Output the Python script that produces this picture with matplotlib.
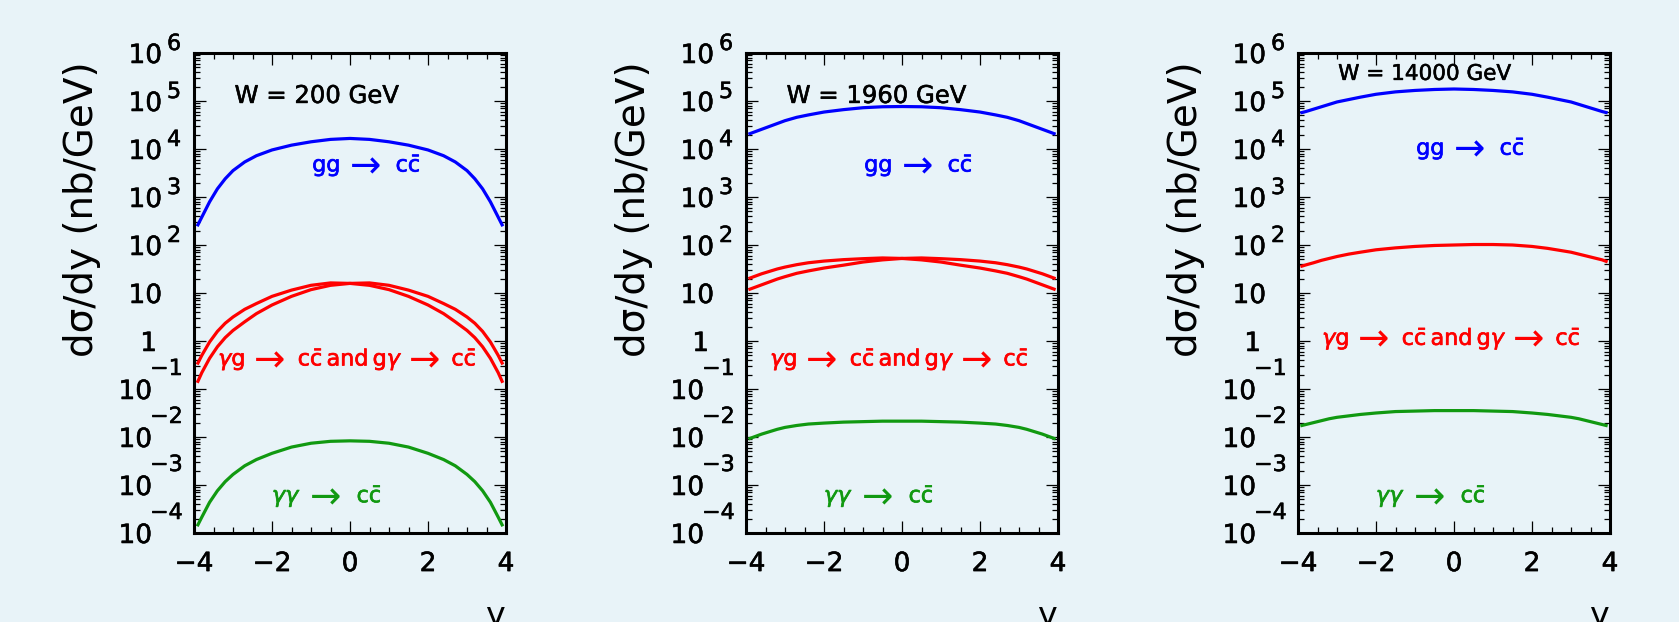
"""
Rapidity distributions dσ/dy of charm pairs for three energies W,
gg, γg/gγ and γγ channels, drawn on log scale in the old PAW style.
"""
import matplotlib
matplotlib.use("Agg")
import matplotlib.pyplot as plt
import matplotlib.patheffects as pe
import numpy as np
from matplotlib.ticker import MultipleLocator, LogLocator, NullFormatter

plt.rcParams["font.family"] = ["DejaVu Sans"]
plt.rcParams["mathtext.fontset"] = "dejavusans"

BG = "#e8f3f8"
BLUE, RED, GREEN = "#0000ff", "#ff0000", "#119911"

# rapidity grid of the curves
Y = [-3.9, -3.8, -3.6, -3.4, -3.2, -3.0, -2.7, -2.4, -2.0, -1.5, -1.0, -0.5, 0.0,
     0.5, 1.0, 1.5, 2.0, 2.4, 2.7, 3.0, 3.2, 3.4, 3.6, 3.8, 3.9]


def mirror(half):
    # symmetric curve: values from y=-3.9 up to y=0, reflected
    return half + half[-2::-1]


# all values below are log10 of dσ/dy in nb/GeV

# W = 200 GeV
gg_200 = mirror([2.42, 2.58, 2.90, 3.17, 3.38, 3.55, 3.73, 3.86, 3.98, 4.08, 4.15, 4.20, 4.22])
yg_200_left = [-0.46, -0.30, -0.02, 0.20, 0.37, 0.50, 0.66, 0.78, 0.93, 1.06, 1.16, 1.21, 1.20]
gy_200_left = [-0.84, -0.66, -0.36, -0.12, 0.07, 0.22, 0.40, 0.57, 0.75, 0.93, 1.07, 1.16, 1.20]
yy_200 = mirror([-3.83, -3.67, -3.36, -3.12, -2.93, -2.78, -2.60, -2.47, -2.34, -2.21, -2.13, -2.09, -2.08])

# W = 1960 GeV
gg_1960 = mirror([4.32, 4.35, 4.41, 4.47, 4.53, 4.59, 4.66, 4.71, 4.77, 4.82, 4.86, 4.88, 4.885])
yg_1960_left = [1.31, 1.34, 1.40, 1.45, 1.50, 1.54, 1.59, 1.63, 1.665, 1.695, 1.715, 1.73, 1.72]
gy_1960_left = [1.08, 1.11, 1.17, 1.23, 1.29, 1.34, 1.41, 1.46, 1.52, 1.58, 1.645, 1.69, 1.72]
yy_1960 = mirror([-2.03, -2.00, -1.94, -1.89, -1.84, -1.80, -1.76, -1.73, -1.71, -1.69, -1.68, -1.67, -1.67])

# W = 14000 GeV
gg_14000 = mirror([4.76, 4.78, 4.83, 4.88, 4.93, 4.98, 5.03, 5.08, 5.14, 5.19, 5.22, 5.24, 5.25])
yg_14000 = [1.56, 1.585, 1.63, 1.68, 1.72, 1.76, 1.81, 1.85, 1.90, 1.94, 1.97, 1.99, 2.00,
            2.01, 2.01, 2.00, 1.97, 1.93, 1.89, 1.85, 1.81, 1.77, 1.73, 1.69, 1.66]
yy_14000 = mirror([-1.76, -1.74, -1.70, -1.66, -1.62, -1.59, -1.56, -1.53, -1.50, -1.47, -1.46, -1.45, -1.45])


def pair(left_a, left_b):
    # γg and gγ are mirror images of each other
    a = left_a + left_b[-2::-1]
    return a, a[::-1]


yg_200, gy_200 = pair(yg_200_left, gy_200_left)
yg_1960, gy_1960 = pair(yg_1960_left, gy_1960_left)

W_LABELS = ["W = 200 GeV", "W = 1960 GeV", "W = 14000 GeV"]
X_TICKS = [-4, -2, 0, 2, 4]
X_TICK_LABELS = ["\u22124", "\u22122", "0", "2", "4"]

ARROW = "\u2192"
CC = r"c$\bar{\rm c}$"
# process labels, split in pieces: (text, left x in data units)
LBL_GG = [("gg", -0.97), (ARROW, 0.06), (CC, 1.17)]
LBL_YG = [(r"$\gamma$g", -3.38), (ARROW, -2.40), (CC, -1.34), ("and", -0.60),
          (r"g$\gamma$", 0.58), (ARROW, 1.58), (CC, 2.60)]
LBL_YY = [(r"$\gamma\gamma$", -2.0), (ARROW, -0.96), (CC, 0.17)]

PX = 0.72  # pixels -> points at dpi 100


def heavy(color="black", w=0.4):
    # the original font is a little heavier than DejaVu
    return [pe.withStroke(linewidth=w, foreground=color)]


def process_label(ax, pieces, logy, color):
    for txt, x in pieces:
        if txt == ARROW:
            ax.text(x - 0.06, 10 ** (logy - 0.125), txt, color=color, fontsize=27,
                    ha="left", va="baseline")
        else:
            ax.text(x, 10 ** logy, txt, color=color, fontsize=16, ha="left",
                    va="baseline", path_effects=heavy(color, 0.5))


def decade_labels(ax):
    tr = ax.get_yaxis_transform()
    for k in range(-4, 7):
        y = 10.0 ** k
        kw = dict(xy=(0, y), xycoords=tr, textcoords="offset points",
                  va="center_baseline", annotation_clip=False,
                  path_effects=heavy())
        if k == 0:
            ax.annotate("1", xytext=(-37 * PX, 0), ha="right", fontsize=19, **kw)
        elif k == 1:
            ax.annotate("10", xytext=(-32 * PX, 0), ha="right", fontsize=19, **kw)
        elif k > 1:
            ax.annotate("10", xytext=(-32 * PX, 0), ha="right", fontsize=19, **kw)
            ax.annotate(str(k), xytext=(-27 * PX, 11 * PX), ha="left", fontsize=16, **kw)
        else:
            ax.annotate("10", xytext=(-42 * PX, 0), ha="right", fontsize=19, **kw)
            ax.annotate("\u2212%d" % -k, xytext=(-44 * PX, 22 * PX), ha="left",
                        fontsize=16, **kw)


def style_axes(ax):
    ax.set_facecolor(BG)
    ax.set_xlim(-4, 4)
    ax.set_yscale("log")
    ax.set_ylim(1e-4, 1e6)
    ax.xaxis.set_major_locator(MultipleLocator(2))
    ax.xaxis.set_minor_locator(MultipleLocator(0.5))
    ax.yaxis.set_major_locator(LogLocator(base=10, numticks=20))
    ax.yaxis.set_minor_locator(LogLocator(base=10, subs=range(2, 10), numticks=20))
    ax.yaxis.set_major_formatter(NullFormatter())
    ax.yaxis.set_minor_formatter(NullFormatter())
    ax.set_xticks(X_TICKS)
    ax.set_xticklabels(X_TICK_LABELS, fontsize=19)
    for t in ax.get_xticklabels():
        t.set_path_effects(heavy())
    ax.tick_params(which="both", direction="in", top=True, right=True, width=0.9)
    ax.tick_params(which="major", length=8.5)
    ax.tick_params(which="minor", length=4)
    ax.tick_params(axis="x", which="major", pad=13)
    for sp in ax.spines.values():
        sp.set_linewidth(2.2)
    decade_labels(ax)
    ax.text(-0.359, 0.675, "dσ/dy (nb/GeV)", rotation=90, fontsize=28,
            transform=ax.transAxes, ha="center", va="center")
    ax.text(0.965, -0.194, "y", fontsize=24, transform=ax.transAxes,
            ha="center", va="baseline", clip_on=False)


def curve(ax, logs, color):
    ax.plot(Y, np.power(10.0, logs), color=color, lw=2.3)


fig = plt.figure(figsize=(16.79, 6.22), dpi=100, facecolor=BG)
lefts = [194 / 1679, 746 / 1679, 1298 / 1679]
axes = [fig.add_axes([l, 1 - 533 / 622, 312 / 1679, 480 / 622]) for l in lefts]

# panel 1
curve(axes[0], gg_200, BLUE)
curve(axes[0], yg_200, RED)
curve(axes[0], gy_200, RED)
curve(axes[0], yy_200, GREEN)
# panel 2
curve(axes[1], gg_1960, BLUE)
curve(axes[1], yg_1960, RED)
curve(axes[1], gy_1960, RED)
curve(axes[1], yy_1960, GREEN)
# panel 3
curve(axes[2], gg_14000, BLUE)
curve(axes[2], yg_14000, RED)
curve(axes[2], yy_14000, GREEN)

for i, ax in enumerate(axes):
    style_axes(ax)
    if i < 2:
        ax.text(-2.96, 10 ** 4.96, W_LABELS[i], fontsize=17.5, va="baseline",
                path_effects=heavy())
        process_label(ax, LBL_GG, 3.53, BLUE)
        process_label(ax, LBL_YG, -0.51, RED)
    else:
        ax.text(-2.97, 10 ** 5.44, W_LABELS[i], fontsize=15.5, va="baseline",
                path_effects=heavy())
        process_label(ax, LBL_GG, 3.88, BLUE)
        process_label(ax, LBL_YG, -0.08, RED)
    process_label(ax, LBL_YY, -3.36, GREEN)

fig.savefig("out.png", dpi=100, facecolor=BG)
